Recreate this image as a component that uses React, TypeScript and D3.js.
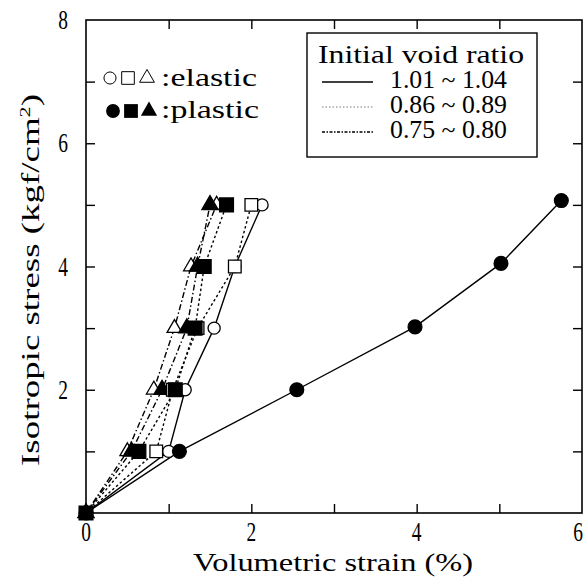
import React, { useEffect, useRef } from "react";
import * as d3 from "d3";

// stress levels (kgf/cm2) and strains (%)
const stressLevels = [0, 1, 2, 3, 4, 5];
const plasticCircleStress = [0, 1, 2, 3.02, 4.05, 5.07];

const elasticCircle = [0, 1.0, 1.2, 1.55, 1.8, 2.13];
const plasticCircle = [0, 1.13, 2.55, 3.98, 5.02, 5.75];
const elasticSquare = [0, 0.85, 1.05, 1.35, 1.8, 2.0];
const plasticSquare = [0, 0.64, 1.08, 1.32, 1.43, 1.7];
const elasticTriangle = [0, 0.5, 0.82, 1.07, 1.27, 1.58];
const plasticTriangle = [0, 0.55, 0.92, 1.22, 1.35, 1.5];

const voidRatioLabels = ["1.01 ~ 1.04", "0.86 ~ 0.89", "0.75 ~ 0.80"];
const xTickLabels = [0, 2, 4, 6];
const yTickLabels = [2, 4, 6, 8];

const dashes = ["", "2.5,2.5", "6,2.5,1.5,2.5"];

const series = [
  { strain: elasticCircle, stress: stressLevels, shape: "circle", filled: false, style: 0 },
  { strain: plasticCircle, stress: plasticCircleStress, shape: "circle", filled: true, style: 0 },
  { strain: elasticTriangle, stress: stressLevels, shape: "triangle", filled: false, style: 2 },
  { strain: plasticTriangle, stress: stressLevels, shape: "triangle", filled: true, style: 2 },
  { strain: elasticSquare, stress: stressLevels, shape: "square", filled: false, style: 1 },
  { strain: plasticSquare, stress: stressLevels, shape: "square", filled: true, style: 1 },
];

const FONT = "Liberation Serif, Times New Roman, Times, serif";

const symbolPath = (shape: string, big: boolean) => {
  if (shape === "circle") return d3.symbol(d3.symbolCircle, big ? 150 : 115)();
  if (shape === "square") return d3.symbol(d3.symbolSquare, big ? 190 : 160)();
  return d3.symbol(d3.symbolTriangle, big ? 115 : 95)();
};

const App = () => {
  const ref = useRef<SVGSVGElement>(null);

  useEffect(() => {
    const W = 585;
    const H = 577;
    const svg = d3.select(ref.current).attr("width", W).attr("height", H);
    svg.selectAll("*").remove();

    const x = d3.scaleLinear().domain([0, 6]).range([86, 582]);
    const y = d3.scaleLinear().domain([0, 8]).range([513, 20]);

    // frame
    svg.append("rect")
      .attr("x", x(0)).attr("y", y(8))
      .attr("width", x(6) - x(0)).attr("height", y(0) - y(8))
      .attr("fill", "none").attr("stroke", "#000").attr("stroke-width", 1.6);

    // inward ticks on all four sides
    const tk = 9;
    const axes = [
      { g: d3.axisBottom(x).tickValues([1, 2, 3, 4, 5]), t: `translate(0,${y(0)})` },
      { g: d3.axisTop(x).tickValues([1, 2, 3, 4, 5]), t: `translate(0,${y(8)})` },
      { g: d3.axisLeft(y).tickValues([1, 2, 3, 4, 5, 6, 7]), t: `translate(${x(0)},0)` },
      { g: d3.axisRight(y).tickValues([1, 2, 3, 4, 5, 6, 7]), t: `translate(${x(6)},0)` },
    ];
    axes.forEach(a => {
      const g = svg.append("g").attr("transform", a.t)
        .call(a.g.tickSizeInner(-tk).tickSizeOuter(0).tickFormat(() => ""));
      g.select(".domain").remove();
      g.selectAll("line").attr("stroke-width", 1.4);
    });

    // tick labels (condensed serif digits)
    xTickLabels.forEach(v => {
      const px = v === 6 ? 578 : x(v);
      svg.append("text")
        .attr("transform", `translate(${px},${541}) scale(0.72,1)`)
        .attr("text-anchor", "middle")
        .attr("font-family", FONT).attr("font-size", 27)
        .text(v);
    });
    yTickLabels.forEach(v => {
      svg.append("text")
        .attr("transform", `translate(${63},${y(v) + 9}) scale(0.72,1)`)
        .attr("text-anchor", "middle")
        .attr("font-family", FONT).attr("font-size", 27)
        .text(v);
    });

    // axis titles
    svg.append("text")
      .attr("x", 333).attr("y", 571)
      .attr("text-anchor", "middle")
      .attr("font-family", FONT).attr("font-size", 25)
      .attr("textLength", 280).attr("lengthAdjust", "spacingAndGlyphs")
      .text("Volumetric strain (%)");

    const yl = svg.append("text")
      .attr("transform", `translate(39,280) rotate(-90)`)
      .attr("text-anchor", "middle")
      .attr("font-family", FONT).attr("font-size", 25)
      .attr("textLength", 372).attr("lengthAdjust", "spacingAndGlyphs");
    yl.append("tspan").text("Isotropic stress (kgf/cm");
    yl.append("tspan").attr("dy", -9).attr("font-size", 15).text("2");
    yl.append("tspan").attr("dy", 9).text(")");

    // lines
    series.forEach(s => {
      const pts = s.strain.map((v, i) => [x(v), y(s.stress[i])] as [number, number]);
      svg.append("path")
        .attr("d", d3.line()(pts))
        .attr("fill", "none").attr("stroke", "#000")
        .attr("stroke-width", 1.4)
        .attr("stroke-dasharray", dashes[s.style]);
    });

    // markers
    series.forEach(s => {
      svg.append("g").selectAll("path")
        .data(s.strain.map((v, i) => [v, s.stress[i]]))
        .join("path")
        .attr("transform", d => `translate(${x(d[0])},${y(d[1])})`)
        .attr("d", symbolPath(s.shape, s.filled))
        .attr("fill", s.filled ? "#000" : "#fff")
        .attr("stroke", "#000").attr("stroke-width", 1.3);
    });

    // legend for void ratio
    svg.append("rect")
      .attr("x", 307).attr("y", 33).attr("width", 230).attr("height", 124)
      .attr("fill", "#fff").attr("stroke", "#000").attr("stroke-width", 1.4);
    svg.append("text")
      .attr("x", 318).attr("y", 63)
      .attr("font-family", FONT).attr("font-size", 26)
      .attr("textLength", 206).attr("lengthAdjust", "spacingAndGlyphs")
      .text("Initial void ratio");
    voidRatioLabels.forEach((lab, i) => {
      const yy = 88 + i * 25;
      svg.append("line")
        .attr("x1", 322).attr("x2", 373)
        .attr("y1", yy - 6).attr("y2", yy - 6)
        .attr("stroke", i === 1 ? "#777" : "#000")
        .attr("stroke-width", i === 1 ? 1 : 1.4)
        .attr("stroke-dasharray", i === 1 ? "1.5,2" : i === 2 ? "3,1.5,1.5,1.5" : "");
      svg.append("text")
        .attr("x", 390).attr("y", yy)
        .attr("font-family", FONT).attr("font-size", 25)
        .attr("textLength", 117).attr("lengthAdjust", "spacingAndGlyphs")
        .text(lab);
    });

    // legend for elastic / plastic markers
    const shapes = ["circle", "square", "triangle"];
    const openX = [110, 128, 147];
    const fillX = [113, 131, 149];
    shapes.forEach((sh, i) => {
      svg.append("path")
        .attr("transform", `translate(${openX[i]},78)`)
        .attr("d", symbolPath(sh, false))
        .attr("fill", "#fff").attr("stroke", "#000").attr("stroke-width", 1);
      svg.append("path")
        .attr("transform", `translate(${fillX[i]},111)`)
        .attr("d", symbolPath(sh, true))
        .attr("fill", "#000");
    });
    svg.append("text")
      .attr("x", 161).attr("y", 86)
      .attr("font-family", FONT).attr("font-size", 25)
      .attr("textLength", 96).attr("lengthAdjust", "spacingAndGlyphs")
      .text(":elastic");
    svg.append("text")
      .attr("x", 161).attr("y", 118)
      .attr("font-family", FONT).attr("font-size", 25)
      .attr("textLength", 98).attr("lengthAdjust", "spacingAndGlyphs")
      .text(":plastic");
  }, []);

  return (
    <svg ref={ref} style={{ position: "absolute", left: 0, top: 0, background: "#fff" }}></svg>
  );
};

export default App;
